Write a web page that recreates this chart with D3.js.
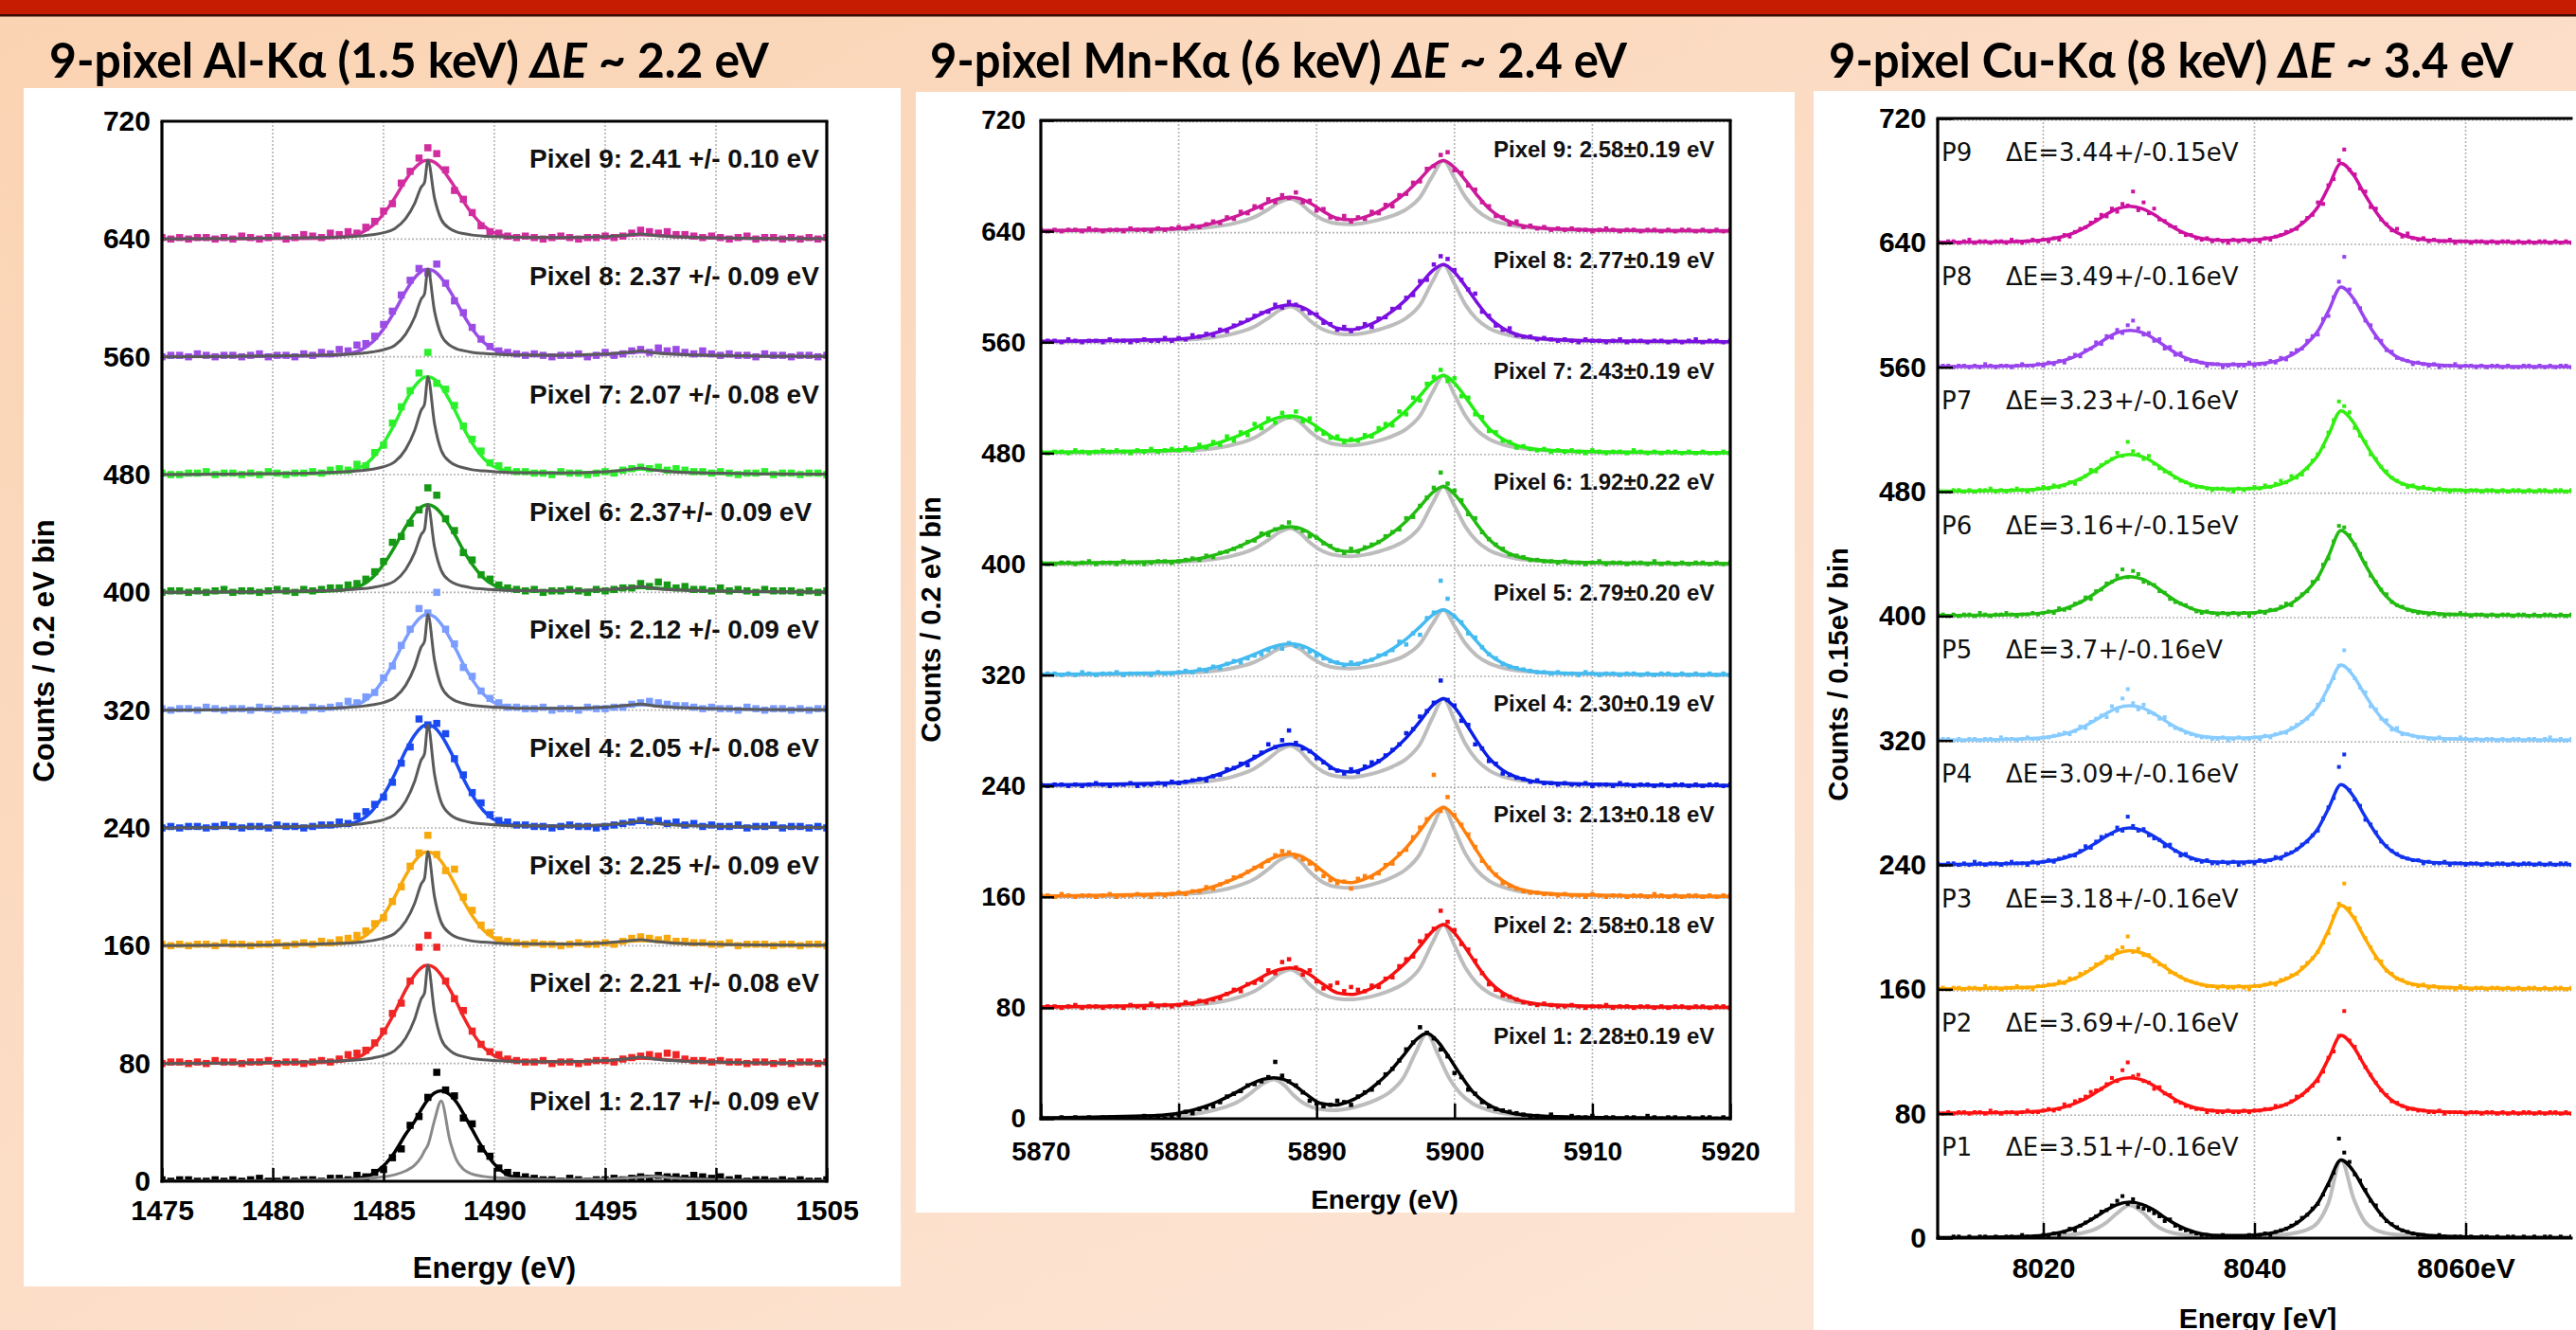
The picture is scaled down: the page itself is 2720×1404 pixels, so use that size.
<!DOCTYPE html>
<html><head><meta charset="utf-8">
<script src="https://cdn.jsdelivr.net/npm/d3@7"></script>
<style>body{margin:0;overflow:hidden;background:#fff}svg{display:block}</style>
</head><body>
<svg id="c" width="2720" height="1404"></svg>
<script>
// ---------------- shared ----------------
const offsets=[0,80,160,240,320,400,480,560,640];
const yTicks=[0,80,160,240,320,400,480,560,640,720];

// ---------------- Al-Ka panel ----------------
const alXTicks=[1475,1480,1485,1490,1495,1500,1505];
const alColors=["#000000","#f02525","#f7a80c","#1b4bf0","#7b9dff","#169a16","#2bf02b","#9a4ce4","#d12d9e"];
const alLabels=["Pixel 1: 2.17 +/- 0.09 eV","Pixel 2: 2.21 +/- 0.08 eV","Pixel 3: 2.25 +/- 0.09 eV","Pixel 4: 2.05 +/- 0.08 eV","Pixel 5: 2.12 +/- 0.09 eV","Pixel 6: 2.37+/- 0.09 eV","Pixel 7: 2.07 +/- 0.08 eV","Pixel 8: 2.37 +/- 0.09 eV","Pixel 9: 2.41 +/- 0.10 eV"];
const alBinStart=1475, alBinStep=0.4;
const alData=[
[1,0,1,1,0,0,1,0,1,0,1,2,0,0,1,0,1,1,0,2,2,1,4,3,6,8,16,22,38,44,57,74,62,58,43,39,22,17,9,6,4,3,2,1,1,0,2,1,0,1,1,2,1,2,3,2,4,3,3,2,4,3,2,3,1,2,0,1,1,0,1,0,1,0,0,1],
[0,1,1,0,1,0,2,1,1,0,1,1,2,0,1,1,0,1,2,1,3,6,7,9,14,22,34,41,56,79,87,79,56,44,36,22,13,8,6,3,2,1,1,2,0,1,1,0,1,2,2,1,3,4,5,6,5,7,6,3,2,2,1,2,1,1,0,1,1,0,1,0,1,1,0,1],
[1,0,1,0,1,1,0,2,1,1,0,1,1,2,0,1,2,1,3,2,4,5,7,10,15,19,30,40,54,63,75,62,51,52,33,24,14,9,4,3,2,1,2,1,1,0,1,2,1,1,2,1,3,5,6,5,4,5,3,3,2,2,1,1,2,0,1,1,1,0,1,1,0,1,1,0],
[0,1,0,1,1,0,1,2,1,0,1,1,0,2,1,1,0,1,2,2,4,3,8,11,16,21,31,44,55,74,70,71,64,47,36,24,17,9,5,4,2,2,1,1,0,1,2,1,1,0,1,2,3,4,5,4,5,3,4,2,3,1,2,1,1,2,0,1,1,2,0,1,1,0,1,0],
[1,0,1,1,0,2,1,0,1,1,0,2,1,0,1,1,0,2,1,2,3,6,5,9,12,22,30,44,55,69,66,80,55,45,29,23,13,8,5,2,2,1,1,2,0,1,1,0,2,1,1,2,2,4,5,6,5,4,3,3,2,1,2,1,1,0,2,1,0,1,1,0,1,0,1,1],
[0,1,1,0,1,0,1,2,0,1,1,0,1,2,1,0,2,1,2,3,3,5,6,9,14,21,34,38,47,56,71,66,50,42,27,22,12,9,5,3,2,1,2,0,1,1,2,1,0,2,1,2,3,3,6,4,7,5,3,4,2,2,1,3,1,2,1,0,2,1,1,1,0,1,0,1],
[1,0,0,1,1,2,0,1,1,0,1,0,2,1,0,1,1,2,1,3,4,3,7,6,15,20,35,46,57,69,83,62,58,47,33,24,16,8,6,3,2,2,1,1,0,2,1,1,0,1,2,1,3,4,5,4,5,3,4,3,2,2,1,2,1,0,1,1,2,0,1,1,0,1,1,0],
[0,1,1,0,2,1,0,1,1,0,1,2,0,1,1,0,2,1,3,2,5,4,8,9,14,22,31,42,52,60,57,63,50,38,30,20,12,7,4,3,2,1,2,1,0,1,1,2,0,1,3,1,2,4,5,3,6,4,5,3,2,4,2,1,2,1,1,0,2,1,1,0,1,1,0,1],
[1,0,1,0,1,1,0,1,0,2,1,0,1,2,0,1,3,2,1,4,3,5,4,8,12,19,24,38,46,55,62,58,47,33,27,18,9,5,4,2,1,2,1,0,1,2,1,0,1,1,2,1,2,4,6,5,4,5,3,3,2,1,2,1,0,1,2,0,1,1,0,1,0,1,0,1]
];
const alFitE=[1475,1478,1480,1482,1483,1484,1484.5,1485,1485.5,1486,1486.4,1486.7,1486.85,1487.0,1487.3,1487.6,1488,1488.3,1488.6,1489,1489.5,1490,1491,1493,1495,1496,1496.6,1497.2,1498,1500,1502,1505];
const alFit=[
[.1,.2,.3,.6,.9,2.5,4.9,10.5,19.7,32,40.6,48.6,52.3,55.4,60,61.5,58.7,53.5,46.1,35.1,21.8,11.7,2.5,.9,1.2,2.2,3,3.4,2.8,1.2,.6,.3],
[.1,.3,.4,.8,1.5,5.3,11.3,21.3,34.7,50,60,65,66.4,66.7,65,60,50,41.4,32,21.3,11.3,5.3,1.7,1,1.7,3,3.7,3.3,2.3,1,.5,.3],
[.1,.3,.4,.8,1.4,5.1,10.8,20.4,33.1,47.8,57.3,62.1,63.4,63.7,62.1,57.3,47.8,39.5,30.6,20.4,10.8,5.1,1.6,1,1.6,2.9,3.5,3.2,2.2,1,.5,.3],
[.1,.3,.4,.8,1.5,5.6,11.9,22.4,36.4,52.5,63,68.3,69.7,70,68.3,63,52.5,43.4,33.6,22.4,11.9,5.6,1.8,1.1,1.8,3.2,3.9,3.5,2.5,1.1,.6,.3],
[.1,.3,.4,.8,1.4,5.2,11.1,20.8,33.8,48.8,58.5,63.4,64.7,65,63.4,58.5,48.8,40.3,31.2,20.8,11.1,5.2,1.6,1,1.6,2.9,3.6,3.3,2.3,1,.5,.3],
[.1,.2,.4,.7,1.3,4.8,10.1,19,30.9,44.6,53.6,58,59.2,59.5,58,53.6,44.6,36.9,28.6,19,10.1,4.8,1.5,.9,1.5,2.7,3.3,3,2.1,.9,.5,.2],
[.1,.3,.4,.8,1.5,5.3,11.3,21.3,34.6,49.9,59.9,64.8,66.2,66.5,64.8,59.9,49.9,41.2,31.9,21.3,11.3,5.3,1.7,1,1.7,3,3.7,3.3,2.3,1,.5,.3],
[.1,.2,.4,.7,1.3,4.8,10.1,19,30.9,44.6,53.6,58,59.2,59.5,58,53.6,44.6,36.9,28.6,19,10.1,4.8,1.5,.9,1.5,2.7,3.3,3,2.1,.9,.5,.2],
[.1,.2,.3,.6,1.2,4.3,9.1,17.1,27.8,40.1,48.2,52.2,53.2,53.5,52.2,48.2,40.1,33.2,25.7,17.1,9.1,4.3,1.3,.8,1.3,2.4,2.9,2.7,1.9,.8,.4,.2]
];
const alGray=[
[0,.2,.4,.8,1.1,1.6,2.2,3,4.4,7.1,10.9,16.4,20.7,24.5,41.4,54.5,27.3,14.2,8.2,4.9,3.3,2.5,1.6,1.1,1.4,2.2,2.7,3.3,2.2,1.1,.5,.3],
[0,.3,.7,1.2,1.7,2.7,3.7,5.3,8.7,17.3,30,44,48,66.7,34.7,16.7,8.7,6,4.7,3.3,2.5,2,1.3,1.2,2,3.3,4.3,3,2,1,.5,.3],
[0,.3,.6,1.1,1.6,2.5,3.5,5.1,8.3,16.6,28.7,42,45.9,63.7,33.1,15.9,8.3,5.7,4.5,3.2,2.4,1.9,1.3,1.1,1.9,3.2,4.1,2.9,1.9,1,.5,.3],
[0,.4,.7,1.3,1.8,2.8,3.9,5.6,9.1,18.2,31.5,46.2,50.4,70,36.4,17.5,9.1,6.3,4.9,3.5,2.7,2.1,1.4,1.3,2.1,3.5,4.6,3.2,2.1,1.1,.6,.3],
[0,.3,.7,1.2,1.6,2.6,3.6,5.2,8.5,16.9,29.3,42.9,46.8,65,33.8,16.3,8.5,5.9,4.6,3.3,2.5,2,1.3,1.2,2,3.3,4.2,2.9,2,1,.5,.3],
[0,.3,.6,1.1,1.5,2.4,3.3,4.8,7.7,15.5,26.8,39.3,42.8,59.5,30.9,14.9,7.7,5.4,4.2,3,2.3,1.8,1.2,1.1,1.8,3,3.9,2.7,1.8,.9,.5,.2],
[0,.3,.7,1.2,1.7,2.7,3.7,5.3,8.6,17.3,29.9,43.9,47.9,66.5,34.6,16.6,8.6,6,4.7,3.3,2.5,2,1.3,1.2,2,3.3,4.3,3,2,1,.5,.3],
[0,.3,.6,1.1,1.5,2.4,3.3,4.8,7.7,15.5,26.8,39.3,42.8,59.5,30.9,14.9,7.7,5.4,4.2,3,2.3,1.8,1.2,1.1,1.8,3,3.9,2.7,1.8,.9,.5,.2],
[0,.3,.5,1,1.3,2.1,2.9,4.3,7,13.9,24.1,35.3,38.5,53.5,27.8,13.4,7,4.8,3.7,2.7,2,1.6,1.1,1,1.6,2.7,3.5,2.4,1.6,.8,.4,.2]
];

// ---------------- Mn-Ka panel ----------------
const mnXTicks=[5870,5880,5890,5900,5910,5920];
const mnColors=["#000000","#f51010","#ff7f0e","#0a1ee6","#44bbf0","#22bb11","#22ee11","#7a10e0","#cc1a99"];
const mnLabels=["Pixel 1: 2.28\u00b10.19 eV","Pixel 2: 2.58\u00b10.18 eV","Pixel 3: 2.13\u00b10.18 eV","Pixel 4: 2.30\u00b10.19 eV","Pixel 5: 2.79\u00b10.20 eV","Pixel 6: 1.92\u00b10.22 eV","Pixel 7: 2.43\u00b10.19 eV","Pixel 8: 2.77\u00b10.19 eV","Pixel 9: 2.58\u00b10.19 eV"];
const mnBinStart=5870, mnBinStep=0.5;
const mnData=[
[1,0,0,1,0,1,0,1,0,1,1,0,1,1,0,2,1,2,0,1,3,5,4,7,8,9,12,16,18,20,24,25,27,30,41,31,27,24,19,13,11,9,10,13,12,10,16,19,21,26,32,36,42,50,55,66,62,58,50,45,33,30,21,18,12,9,7,6,5,4,3,2,2,1,3,1,0,2,1,1,2,0,1,1,0,1,1,0,2,1,0,1,1,0,1,0,1,1,0,1,0],
[0,1,1,0,1,2,0,1,1,0,1,1,0,2,1,0,3,1,2,1,2,4,3,5,4,6,7,10,13,12,17,18,20,27,25,33,35,29,24,27,19,14,16,18,12,15,13,12,16,15,21,22,30,35,37,48,52,57,70,62,56,46,42,34,25,17,13,9,8,6,4,3,2,3,2,1,1,2,1,0,1,1,2,0,1,1,0,1,1,0,1,0,1,1,0,1,1,0,1,1,0],
[1,1,0,2,1,0,1,1,0,1,2,0,1,1,2,1,0,2,1,2,3,2,4,4,7,6,9,11,14,15,18,21,22,26,30,33,32,29,27,24,20,15,12,10,11,6,13,15,14,17,23,24,31,34,43,50,56,88,62,72,59,52,45,36,26,21,16,10,8,6,4,3,3,2,2,1,2,1,1,0,2,1,0,1,1,0,1,1,0,2,1,0,1,0,1,1,0,1,0,1,1],
[1,0,1,1,0,1,0,1,2,1,0,1,1,2,0,1,1,2,1,3,2,3,4,5,4,7,8,12,13,16,15,21,24,30,28,33,40,31,27,25,20,17,13,11,9,12,10,14,17,18,22,26,30,38,41,50,54,60,76,62,58,47,44,30,27,18,16,9,8,6,5,3,4,2,2,1,2,1,1,2,0,1,1,0,2,1,0,1,1,0,1,0,1,1,0,1,0,1,1,0,1],
[0,1,1,0,1,0,2,1,0,1,1,2,0,1,1,1,0,2,1,1,2,3,2,4,3,6,5,8,10,9,12,14,15,18,20,19,23,21,20,17,14,12,10,9,7,9,8,10,11,14,15,18,24,22,30,29,41,45,68,55,42,38,30,27,20,15,12,8,6,5,4,3,2,2,1,2,1,1,0,2,1,0,1,1,0,1,1,0,1,0,1,1,0,1,0,1,0,1,0,1,0],
[1,0,0,1,1,0,1,2,0,1,1,0,2,1,1,0,1,2,2,1,2,3,4,3,6,5,8,9,11,13,16,17,22,21,25,27,30,26,24,20,19,15,13,10,8,11,9,12,14,16,20,23,25,33,34,42,48,55,66,58,53,46,36,33,23,18,14,11,7,6,5,3,3,2,2,1,2,1,1,0,1,2,0,1,1,0,1,1,0,2,0,1,0,1,0,1,1,0,1,0,1],
[1,0,1,1,0,2,1,0,1,2,1,2,1,0,2,1,3,1,2,3,2,4,2,6,4,8,6,12,9,15,13,21,18,25,22,29,26,30,23,25,17,14,11,12,8,10,9,13,12,18,21,20,30,28,40,38,50,55,60,52,54,41,40,28,26,16,15,9,8,4,5,3,2,3,1,2,1,2,1,0,2,1,0,1,1,0,2,1,0,1,0,1,1,0,1,0,1,0,0,1,0],
[0,1,1,0,2,1,0,1,1,0,2,1,1,0,1,2,1,1,3,1,3,2,5,4,6,5,9,8,12,14,16,19,21,22,27,25,29,27,24,21,20,14,13,9,11,8,10,13,11,17,18,24,25,32,34,44,45,56,62,60,52,45,38,35,22,19,12,9,10,5,4,4,2,3,2,1,2,1,0,2,1,1,0,1,2,0,1,1,0,1,1,0,1,0,1,2,0,1,1,0,1],
[1,0,1,0,1,1,0,2,1,0,1,1,0,2,1,1,0,2,1,2,3,2,4,3,5,7,6,10,9,14,13,18,17,23,21,26,24,28,21,22,15,16,10,9,11,7,10,9,14,13,19,18,26,27,35,36,45,47,55,57,44,42,33,30,21,18,11,10,5,7,3,4,2,3,1,2,1,2,1,1,0,1,2,1,0,1,1,0,1,1,0,1,0,1,1,0,1,0,1,0,1]
];
const mnFitE=[5870,5875,5878,5880,5882,5884,5885.5,5886.5,5887.3,5888.1,5888.8,5889.5,5890.5,5891.5,5892.5,5893.5,5894.5,5895.5,5896.5,5897.5,5898.4,5899.2,5900.0,5900.8,5901.6,5902.5,5903.5,5904.5,5905.5,5907,5910,5914,5920];
const mnFitE1=[5870,5873.8,5876.8,5878.8,5880.8,5882.8,5884.3,5885.3,5886.1,5886.9,5887.6,5888.3,5889.3,5890.3,5891.3,5892.3,5893.3,5894.3,5895.3,5896.3,5897.2,5898.0,5898.8,5899.6,5900.4,5901.3,5902.3,5903.3,5904.3,5905.8,5908.8,5912.8,5920];
const mnFit=[
[0.6,1.2,1.9,2.5,5.6,12.3,19.7,25.3,28.4,29.6,28.4,24.7,17.3,11.1,9.9,12.3,17.3,24.7,33.9,45.7,56.8,61.7,55.5,44.4,32.1,19.7,11.1,6.2,3.7,2.2,1.2,0.6,0.3],
[0.6,1.2,1.8,2.4,5.4,12,19.2,24.6,27.6,28.8,27.6,24,16.8,10.8,9.6,12,16.8,24,33,44.4,55.2,60,54,43.2,31.2,19.2,10.8,6,3.6,2.1,1.2,0.6,0.3],
[0.6,1.3,1.9,2.6,5.8,12.9,20.6,26.4,29.7,31,29.7,25.8,18.1,11.6,10.3,12.9,18.1,25.8,35.5,47.7,59.3,64.5,58,46.4,33.5,20.6,11.6,6.5,3.9,2.3,1.3,0.6,0.3],
[0.6,1.3,1.9,2.5,5.7,12.6,20.2,25.8,29,30.2,29,25.2,17.6,11.3,10.1,12.6,17.6,25.2,34.7,46.6,58,63,56.7,45.4,32.8,20.2,11.3,6.3,3.8,2.2,1.3,0.6,0.3],
[0.5,0.9,1.4,1.9,4.2,9.4,15,19.3,21.6,22.6,21.6,18.8,13.2,8.5,7.5,9.4,13.2,18.8,25.9,34.8,43.2,47,42.3,33.8,24.4,15,8.5,4.7,2.8,1.6,0.9,0.5,0.2],
[0.6,1.1,1.7,2.2,5,11.2,17.9,23,25.8,26.9,25.8,22.4,15.7,10.1,9,11.2,15.7,22.4,30.8,41.4,51.5,56,50.4,40.3,29.1,17.9,10.1,5.6,3.4,2,1.1,0.6,0.3],
[0.6,1.1,1.7,2.2,5,11.2,17.9,23,25.8,26.9,25.8,22.4,15.7,10.1,9,11.2,15.7,22.4,30.8,41.4,51.5,56,50.4,40.3,29.1,17.9,10.1,5.6,3.4,2,1.1,0.6,0.3],
[0.6,1.1,1.7,2.2,5,11.2,17.9,23,25.8,26.9,25.8,22.4,15.7,10.1,9,11.2,15.7,22.4,30.8,41.4,51.5,56,50.4,40.3,29.1,17.9,10.1,5.6,3.4,2,1.1,0.6,0.3],
[0.5,1,1.5,2,4.6,10.2,16.3,20.9,23.5,24.5,23.5,20.4,14.3,9.2,8.2,10.2,14.3,20.4,28,37.7,46.9,51,45.9,36.7,26.5,16.3,9.2,5.1,3.1,1.8,1,0.5,0.3]
];
const mnGray=[
[0.3,0.6,1.2,1.9,3.1,6.8,12.3,19.1,25.3,28.4,24.7,17.3,9.9,6.8,6.2,7.4,9.9,13.6,19.1,29.6,48.1,61.7,46.3,29.6,18.5,11.1,6.8,4.3,3.1,1.9,0.9,0.5,0.2],
[0.3,0.6,1.2,1.8,3,6.6,12,18.6,24.6,27.6,24,16.8,9.6,6.6,6,7.2,9.6,13.2,18.6,28.8,46.8,60,45,28.8,18,10.8,6.6,4.2,3,1.8,0.9,0.5,0.2],
[0.3,0.6,1.3,1.9,3.2,7.1,12.9,20,26.4,29.7,25.8,18.1,10.3,7.1,6.5,7.7,10.3,14.2,20,31,50.3,64.5,48.4,31,19.4,11.6,7.1,4.5,3.2,1.9,1,0.5,0.2],
[0.3,0.6,1.3,1.9,3.2,6.9,12.6,19.5,25.8,29,25.2,17.6,10.1,6.9,6.3,7.6,10.1,13.9,19.5,30.2,49.1,63,47.3,30.2,18.9,11.3,6.9,4.4,3.2,1.9,0.9,0.5,0.2],
[0.2,0.5,0.9,1.4,2.4,5.2,9.4,14.6,19.3,21.6,18.8,13.2,7.5,5.2,4.7,5.6,7.5,10.3,14.6,22.6,36.7,47,35.3,22.6,14.1,8.5,5.2,3.3,2.4,1.4,0.7,0.4,0.1],
[0.3,0.6,1.1,1.7,2.8,6.2,11.2,17.4,23,25.8,22.4,15.7,9,6.2,5.6,6.7,9,12.3,17.4,26.9,43.7,56,42,26.9,16.8,10.1,6.2,3.9,2.8,1.7,0.8,0.4,0.2],
[0.3,0.6,1.1,1.7,2.8,6.2,11.2,17.4,23,25.8,22.4,15.7,9,6.2,5.6,6.7,9,12.3,17.4,26.9,43.7,56,42,26.9,16.8,10.1,6.2,3.9,2.8,1.7,0.8,0.4,0.2],
[0.3,0.6,1.1,1.7,2.8,6.2,11.2,17.4,23,25.8,22.4,15.7,9,6.2,5.6,6.7,9,12.3,17.4,26.9,43.7,56,42,26.9,16.8,10.1,6.2,3.9,2.8,1.7,0.8,0.4,0.2],
[0.3,0.5,1,1.5,2.6,5.6,10.2,15.8,20.9,23.5,20.4,14.3,8.2,5.6,5.1,6.1,8.2,11.2,15.8,24.5,39.8,51,38.3,24.5,15.3,9.2,5.6,3.6,2.6,1.5,0.8,0.4,0.2]
];

// ---------------- Cu-Ka panel ----------------
const cuXTicks=[8020,8040,8060];
const cuColors=["#000000","#ff1111","#ffaa00","#1133ee","#88ccff","#22bb11","#33ee11","#9944ee","#cc11a0"];
const cuPix=["P1","P2","P3","P4","P5","P6","P7","P8","P9"];
const cuLabels=["\u0394E=3.51+/-0.16eV","\u0394E=3.69+/-0.16eV","\u0394E=3.18+/-0.16eV","\u0394E=3.09+/-0.16eV","\u0394E=3.7+/-0.16eV","\u0394E=3.16+/-0.15eV","\u0394E=3.23+/-0.16eV","\u0394E=3.49+/-0.16eV","\u0394E=3.44+/-0.15eV"];
const cuBinStart=8010, cuBinStep=0.5;
const cuData=[
[1,0,0,1,1,0,1,0,1,1,0,1,0,1,1,0,2,1,0,1,2,1,3,2,4,6,5,8,10,12,14,17,18,21,24,27,22,25,20,19,18,16,14,11,12,8,6,5,4,3,2,2,1,1,2,0,1,1,1,2,1,2,3,2,4,5,6,8,10,13,15,19,22,28,34,42,64,55,49,41,37,31,24,21,15,11,9,7,5,4,3,2,2,1,1,2,1,0,1,1,0,1,0,1,1,0,1,0,1,1,0,1,0,1,0,1,1,0,1,0,1],
[1,0,1,0,1,1,0,1,1,0,2,1,0,1,1,0,1,2,1,1,2,3,2,3,6,5,8,9,11,14,15,16,19,23,21,28,33,24,25,21,20,16,17,13,12,8,7,5,4,3,3,1,2,1,1,2,1,1,2,1,2,2,3,3,5,5,6,8,11,12,15,18,21,27,36,40,50,66,47,43,36,30,25,20,15,12,8,7,5,3,3,2,2,1,1,2,0,1,1,1,0,1,1,0,1,1,0,1,0,1,0,1,1,0,1,0,1,1,0,1,0],
[0,1,0,1,1,0,1,1,0,2,1,1,0,1,1,2,1,1,0,2,2,3,3,5,4,7,7,10,11,13,16,17,21,20,25,27,34,24,26,22,22,18,16,15,11,10,8,6,5,4,3,2,2,1,2,1,1,2,1,0,2,2,3,4,3,6,7,9,10,14,17,20,24,30,36,47,55,68,52,46,39,33,27,20,18,12,10,7,6,4,3,2,3,1,2,1,1,1,0,2,1,0,1,1,0,1,1,0,1,0,1,0,1,1,0,1,0,1,1,0,1],
[1,0,1,1,0,1,0,2,1,0,1,1,0,1,2,1,1,0,2,1,2,3,2,4,5,6,6,9,12,11,15,18,19,20,24,22,31,25,22,23,19,17,16,12,13,9,6,7,4,3,2,3,1,1,2,1,2,0,1,2,1,3,2,3,5,4,7,8,10,13,15,19,22,30,37,43,63,71,48,42,38,29,26,21,15,12,9,7,5,4,3,3,1,2,1,1,2,0,1,1,0,1,1,0,1,0,1,1,0,1,0,1,1,0,1,0,1,0,1,1,0],
[0,1,1,0,1,0,1,1,0,1,1,0,2,1,1,0,1,2,1,1,2,2,3,4,5,4,6,9,8,12,14,16,15,22,19,27,33,24,20,23,18,17,14,15,10,8,7,5,4,3,2,2,1,1,2,0,1,2,1,1,2,1,3,2,4,5,5,8,10,12,14,17,23,26,35,40,48,58,45,40,34,31,22,20,14,13,7,8,4,4,3,2,2,1,1,2,0,1,1,2,1,0,1,0,1,1,0,1,0,1,1,0,1,1,0,1,2,0,1,0,1],
[1,1,0,1,0,1,1,0,2,1,0,1,1,2,1,0,1,1,2,1,2,3,2,5,4,5,8,9,12,11,16,17,21,22,26,30,25,29,27,22,21,20,16,15,11,9,8,7,5,3,2,3,2,1,2,1,2,1,2,0,2,3,2,4,4,6,8,7,11,14,16,22,24,33,37,48,58,57,52,46,40,34,26,22,17,14,9,7,6,4,3,2,2,1,2,1,0,1,1,2,1,0,1,1,0,1,0,1,1,0,1,1,0,1,0,1,1,0,1,0,1],
[1,0,0,1,1,0,1,0,1,1,2,0,1,0,1,2,1,0,1,2,3,2,4,3,4,6,5,8,10,14,13,17,19,21,25,23,32,26,24,21,23,18,15,13,12,9,7,6,4,3,3,2,1,2,2,1,0,2,1,2,3,2,4,3,5,7,6,10,9,11,15,20,24,29,38,46,58,55,51,41,36,32,24,21,16,13,9,7,5,3,4,2,3,2,1,2,1,0,1,1,0,1,1,0,1,1,0,1,0,1,1,0,1,0,1,1,0,1,1,0,1],
[0,1,1,0,1,1,0,1,0,2,1,0,1,1,0,1,2,1,1,2,1,3,2,4,3,6,8,7,11,12,16,15,20,19,24,22,27,30,25,21,22,17,18,12,13,8,9,5,4,4,3,1,2,2,0,1,2,1,1,3,1,2,2,4,3,6,5,9,11,12,17,20,21,31,33,45,55,71,50,42,38,30,27,19,17,11,10,6,5,4,2,3,2,1,2,0,1,1,2,0,1,1,0,1,0,1,1,0,1,0,0,1,1,0,1,0,1,0,1,1,0],
[1,0,1,1,0,1,2,0,1,1,0,1,1,0,2,1,0,1,2,1,2,1,3,2,5,4,7,9,10,13,15,18,17,22,20,25,24,33,21,26,19,22,15,14,11,10,7,5,5,3,2,3,1,2,1,0,2,1,2,1,2,1,3,2,4,5,7,8,9,13,16,18,26,25,37,41,53,60,47,44,35,33,23,22,15,12,8,9,4,6,3,2,3,1,2,1,1,2,0,1,1,0,1,1,0,1,0,1,1,0,1,0,1,0,1,1,0,1,0,1,0]
];
const cuFitE=[8010,8014,8018,8020,8022,8023.5,8025,8026,8027,8028.2,8029.4,8030.5,8031.5,8032.5,8033.5,8035,8037,8039,8041,8042.5,8044,8045,8046,8047,8048.2,8049.4,8050.4,8051.4,8052.4,8053.4,8054.5,8056,8058,8062,8066,8070];
const cuFit=[
[.3,.5,1,1.9,4.3,8,13.8,18.1,21.6,23.1,21.6,17.9,13.3,9.1,5.8,2.8,1.6,1.7,2.6,4.8,9.6,15.1,22.6,35.2,50.3,42.8,31.2,20.6,12.1,6.8,3.9,2.1,1.2,.6,.4,.3],
[.3,.5,1,1.9,4.3,8,13.8,18.1,21.6,23.1,21.6,17.9,13.3,9.1,5.8,2.8,1.6,1.7,2.6,4.8,9.6,15.1,22.6,35.2,50.3,42.8,31.2,20.6,12.1,6.8,3.9,2.1,1.2,.6,.4,.3],
[.3,.5,1.1,2.1,4.6,8.6,14.9,19.4,23.2,24.8,23.2,19.2,14.3,9.7,6.2,3,1.7,1.8,2.8,5.1,10.3,16.2,24.3,37.8,54,45.9,33.5,22.1,13,7.3,4.2,2.3,1.3,.6,.4,.3],
[.3,.5,1,2,4.4,8.3,14.2,18.6,22.2,23.7,22.2,18.3,13.7,9.3,5.9,2.8,1.7,1.8,2.7,4.9,9.8,15.5,23.2,36.1,51.6,43.9,32,21.2,12.4,7,4,2.2,1.2,.6,.4,.3],
[.2,.4,1,1.8,4.1,7.8,13.3,17.5,20.9,22.3,20.9,17.2,12.9,8.7,5.6,2.7,1.6,1.6,2.5,4.6,9.2,14.6,21.8,34,48.5,41.2,30.1,19.9,11.6,6.5,3.8,2,1.2,.6,.4,.2],
[.3,.5,1.1,2.1,4.7,8.8,15.1,19.8,23.7,25.3,23.7,19.5,14.6,9.9,6.3,3,1.8,1.9,2.9,5.2,10.5,16.5,24.8,38.5,55,46.8,34.1,22.6,13.2,7.4,4.3,2.3,1.3,.7,.4,.3],
[.3,.5,1,2,4.4,8.3,14.3,18.7,22.4,23.9,22.4,18.5,13.8,9.4,6,2.9,1.7,1.8,2.7,4.9,9.9,15.6,23.4,36.4,52,44.2,32.2,21.3,12.5,7,4.1,2.2,1.2,.6,.4,.3],
[.3,.5,1,2,4.4,8.3,14.2,18.6,22.2,23.7,22.2,18.3,13.7,9.3,5.9,2.8,1.7,1.8,2.7,4.9,9.8,15.5,23.2,36.1,51.6,43.9,32,21.2,12.4,7,4,2.2,1.2,.6,.4,.3],
[.3,.5,1,1.9,4.3,8.2,14,18.4,21.9,23.5,21.9,18.1,13.5,9.2,5.9,2.8,1.6,1.7,2.7,4.8,9.7,15.3,23,35.7,51,43.4,31.6,20.9,12.2,6.9,4,2.1,1.2,.6,.4,.3]
];
const cuGray1=[.2,.3,.5,.9,1.8,3,6,10.1,16.1,21.1,16.6,9.1,5,3,2,1.3,.9,.9,1.3,2,3.5,5.5,10.1,22.6,50.3,25.2,11.1,5.5,3.3,2.3,1.6,1.1,.8,.4,.3,.2];

// ---------------- drawing ----------------
const svg=d3.select("#c");
const defs=svg.append("defs");
const bg=defs.append("linearGradient").attr("id","bg").attr("x1","0").attr("y1","0").attr("x2","1").attr("y2","1");
bg.append("stop").attr("offset","0").attr("stop-color","#fad3b2");
bg.append("stop").attr("offset","0.55").attr("stop-color","#fcdfca");
bg.append("stop").attr("offset","1").attr("stop-color","#fde8da");
svg.append("rect").attr("width",2720).attr("height",1404).attr("fill","url(#bg)");
svg.append("rect").attr("width",2720).attr("height",16).attr("fill","#c51c02");
svg.append("rect").attr("y",15).attr("width",2720).attr("height",2.5).attr("fill","#3a0c02");

function title(x,w,pre,post){
  const g=svg.append("g");
  const t=g.append("text").attr("x",0).attr("y",0).attr("font-family","Lato, 'Open Sans', sans-serif")
    .attr("font-weight",700).attr("font-size",52).attr("fill","#000");
  t.append("tspan").text(pre);
  t.append("tspan").attr("font-style","italic").text("\u0394E");
  t.append("tspan").text(post);
  const nat=t.node().getComputedTextLength()||w;
  g.attr("transform",`translate(${x},82) scale(${w/nat},1)`);
}
title(52,760,"9-pixel Al-K\u03b1 (1.5 keV) "," ~ 2.2 eV");
title(982,736,"9-pixel Mn-K\u03b1 (6 keV) "," ~ 2.4 eV");
title(1931,723,"9-pixel Cu-K\u03b1 (8 keV) "," ~ 3.4 eV");

const FONT="'Liberation Sans', Arial, Helvetica, sans-serif";

function panel(p){
  const g=svg.append("g");
  g.append("rect").attr("x",p.box[0]).attr("y",p.box[1]).attr("width",p.box[2]).attr("height",p.box[3]).attr("fill","#fff");
  const x=d3.scaleLinear().domain(p.xDomain).range(p.xRange);
  const y=d3.scaleLinear().domain([0,720]).range(p.yRange);
  const [x0,x1]=p.xRange;
  const clipId="clip"+p.id;
  defs.append("clipPath").attr("id",clipId).append("rect")
    .attr("x",x0).attr("y",y(720)-30).attr("width",x1-x0).attr("height",y(0)-y(720)+30);
  const grid=g.append("g").attr("stroke","#b4b4b4").attr("stroke-width",1.6).attr("stroke-dasharray","2,2");
  p.xGrid.forEach(v=>grid.append("line").attr("x1",x(v)).attr("x2",x(v)).attr("y1",y(720)).attr("y2",y(0)));
  p.yGrid.forEach(v=>grid.append("line").attr("x1",x0).attr("x2",x1).attr("y1",y(v)).attr("y2",y(v)));

  const plot=g.append("g").attr("clip-path",`url(#${clipId})`);
  for(let i=0;i<9;i++){
    const off=offsets[i], col=p.colors[i];
    const fe=p.fitE(i);
    const line=d3.line().x((d,j)=>x(fe[j])).y(d=>y(off+d)).curve(d3.curveMonotoneX);
    const gray=p.gray(i);
    const drawGray=()=>{ if(gray) plot.append("path").attr("d",line(gray)).attr("fill","none")
        .attr("stroke",p.grayColor(i)).attr("stroke-width",p.grayW).attr("stroke-linejoin","round"); };
    if(!p.grayTop) drawGray();
    const data=p.data[i];
    plot.append("g").selectAll("rect").data(data).join("rect")
      .attr("x",(d,j)=>x(p.binStart+j*p.binStep)-p.pt/2)
      .attr("y",d=>y(off+d)-p.pt/2)
      .attr("width",p.pt).attr("height",p.pt).attr("fill",col);
    plot.append("path").attr("d",line(p.fit[i])).attr("fill","none").attr("stroke",col)
      .attr("stroke-width",p.fitW).attr("stroke-linejoin","round");
    if(p.grayTop) drawGray();
    p.label(g,i,y(off+80),col);
  }
  const fr=g.append("g").attr("stroke","#000").attr("stroke-width",3.2).attr("fill","none");
  fr.append("line").attr("x1",x0).attr("x2",x0).attr("y1",y(720)).attr("y2",y(0)+1.5);
  fr.append("line").attr("x1",x0-1.5).attr("x2",x1+1.5).attr("y1",y(720)).attr("y2",y(720));
  fr.append("line").attr("x1",x0-1.5).attr("x2",x1+1.5).attr("y1",y(0)).attr("y2",y(0));
  if(p.rightFrame) fr.append("line").attr("x1",x1).attr("x2",x1).attr("y1",y(720)).attr("y2",y(0)+1.5);

  const ax=g.append("g").attr("transform",`translate(0,${y(0)})`)
    .call(d3.axisBottom(x).tickValues(p.xTicks).tickSizeInner(-p.tickLen).tickSizeOuter(0).tickPadding(p.xPad).tickFormat(p.xFmt));
  ax.select(".domain").remove();
  ax.selectAll("line").attr("stroke","#000").attr("stroke-width",2.5);
  ax.selectAll("text").attr("font-family",FONT).attr("font-weight","bold").attr("font-size",p.tickFont).attr("fill","#000");
  const ay=g.append("g").attr("transform",`translate(${x0},0)`)
    .call(d3.axisLeft(y).tickValues(yTicks).tickSizeInner(-p.yTickLen).tickSizeOuter(0).tickPadding(p.yPad));
  ay.select(".domain").remove();
  ay.selectAll("line").attr("stroke","#000").attr("stroke-width",2.5);
  ay.selectAll("text").attr("font-family",FONT).attr("font-weight","bold").attr("font-size",p.tickFont).attr("fill","#000");
  g.append("text").attr("transform",`translate(${p.yLab[0]},${p.yLab[1]}) rotate(-90)`).attr("dy","0.36em")
    .attr("text-anchor","middle").attr("font-family",FONT).attr("font-weight","bold").attr("font-size",p.yLab[2]).text(p.yTitle);
  g.append("text").attr("x",p.xLab[0]).attr("y",p.xLab[1]).attr("text-anchor","middle")
    .attr("font-family",FONT).attr("font-weight","bold").attr("font-size",p.xLab[2]).text(p.xTitle);
}

panel({id:"al",box:[25,93,926,1265],xDomain:[1475,1505],xRange:[171,873],yRange:[1247,128],
  xTicks:alXTicks,xGrid:[1480,1485,1490,1495,1500],yGrid:[80,160,240,320,400,480,560,640],
  colors:alColors,data:alData,binStart:alBinStart,binStep:alBinStep,pt:7.5,
  fitE:i=>alFitE,fit:alFit,gray:i=>alGray[i],grayColor:i=>i===0?"#8a8a8a":"#5a5a5a",grayW:3,grayTop:true,fitW:3.5,
  label:(g,i,yt)=>g.append("text").attr("x",559).attr("y",yt+49).attr("font-family",FONT).attr("font-weight","bold")
      .attr("font-size",28).attr("fill","#111").text(alLabels[i]),
  tickLen:14,yTickLen:0,xPad:20,yPad:12,tickFont:30,xFmt:d=>d,
  yTitle:"Counts / 0.2 eV bin",yLab:[45.5,687,31],xTitle:"Energy (eV)",xLab:[522,1349,31],rightFrame:true});

panel({id:"mn",box:[967,97,928,1183],xDomain:[5870,5920],xRange:[1099,1827],yRange:[1181,127],
  xTicks:mnXTicks,xGrid:[5880,5890,5900,5910],yGrid:[79,159,239,319,399,479,559,639,719],
  colors:mnColors,data:mnData,binStart:mnBinStart,binStep:mnBinStep,pt:4.5,
  fitE:i=>i===0?mnFitE1:mnFitE,fit:mnFit,gray:i=>mnGray[i],grayColor:i=>"#bdbdbd",grayW:4,grayTop:false,fitW:3.5,
  label:(g,i,yt)=>g.append("text").attr("x",1577).attr("y",yt+38.5).attr("font-family",FONT).attr("font-weight","bold")
      .attr("font-size",24).attr("fill","#111").text(mnLabels[i]),
  tickLen:16,yTickLen:14,xPad:24,yPad:16,tickFont:28,xFmt:d=>d,
  yTitle:"Counts / 0.2 eV bin",yLab:[983,654,29],xTitle:"Energy (eV)",xLab:[1462,1276,28],rightFrame:true});

panel({id:"cu",box:[1915,96,805,1308],xDomain:[8010,8070],xRange:[2046,2715],yRange:[1307,125],
  xTicks:cuXTicks,xGrid:[8020,8040,8060],yGrid:[79,159,239,319,399,479,559,639,719],
  colors:cuColors,data:cuData,binStart:cuBinStart,binStep:cuBinStep,pt:4,
  fitE:i=>cuFitE,fit:cuFit,gray:i=>i===0?cuGray1:null,grayColor:i=>"#bdbdbd",grayW:4,grayTop:false,fitW:3.5,
  label:(g,i,yt)=>{
    g.append("text").attr("x",2050).attr("y",yt+44.5).attr("font-family","'DejaVu Sans', sans-serif")
      .attr("font-size",26).attr("fill","#111").text(cuPix[i]);
    g.append("text").attr("x",2118).attr("y",yt+44.5).attr("font-family","'DejaVu Sans', sans-serif")
      .attr("font-size",26).attr("fill","#111").text(cuLabels[i]);
  },
  tickLen:16,yTickLen:16,xPad:21,yPad:12,tickFont:30,xFmt:d=>d===8060?"8060eV":d,
  yTitle:"Counts / 0.15eV bin",yLab:[1941,712,29],xTitle:"Energy [eV]",xLab:[2384,1402,30],rightFrame:false});
</script>
</body></html>
